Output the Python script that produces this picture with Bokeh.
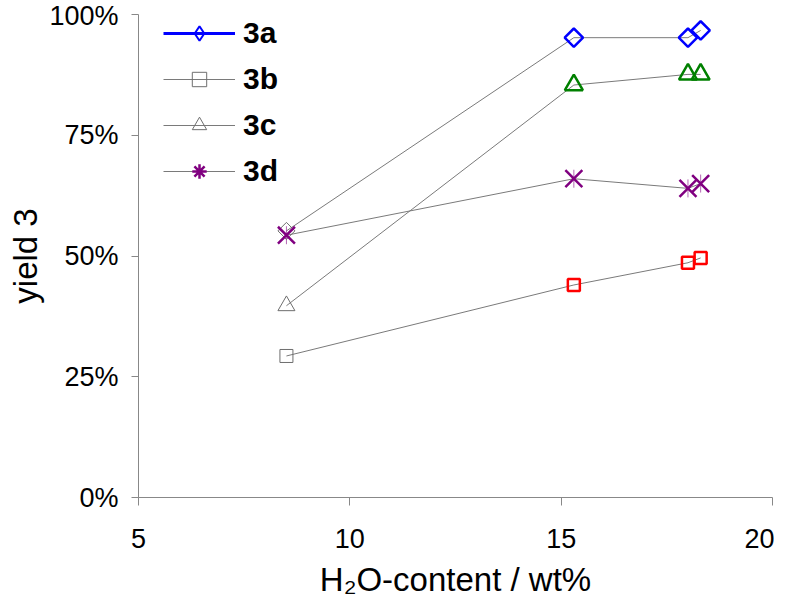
import numpy as np
from bokeh.plotting import figure
from bokeh.models import Legend, LegendItem, FixedTicker, NumeralTickFormatter
from bokeh.embed import file_html
from bokeh.resources import INLINE

# ---------------- data ----------------
water_content = [8.5, 15.3, 18.0, 18.3]          # H2O-content / wt%
yield_3a = [0.552, 0.952, 0.952, 0.967]
yield_3b = [0.293, 0.440, 0.486, 0.496]
yield_3c = [0.397, 0.854, 0.876, 0.876]
yield_3d = [0.543, 0.660, 0.640, 0.650]
series_labels = ["3a", "3b", "3c", "3d"]
x_ticks = [5, 10, 15, 20]
y_ticks = [0.0, 0.25, 0.5, 0.75, 1.0]
x_title = "H\u2082O-content / wt%"
y_title = "yield 3"

# ---------------- style ----------------
FONT = "Liberation Sans"
GRAY = "#6e6e6e"
LINE_GRAY = "#7a7a7a"
BLUE = "#0000ff"
RED = "#ff0000"
GREEN = "#008000"
PURPLE = "#800080"

p = figure(width=774, height=600, output_backend="svg", toolbar_location=None,
           x_range=(5, 20), y_range=(0, 1),
           min_border_left=138, min_border_right=2, min_border_top=14, min_border_bottom=102)

p.grid.visible = False
p.outline_line_color = None
p.background_fill_color = "white"
p.border_fill_color = "white"

for ax in (p.xaxis, p.yaxis):
    ax.axis_line_color = "#888888"
    ax.axis_line_width = 1
    ax.major_tick_line_color = "#888888"
    ax.minor_tick_line_color = None
    ax.major_tick_in = 0
    ax.major_label_text_font = FONT
    ax.major_label_text_font_size = "27px"
    ax.major_label_text_color = "black"
    ax.axis_label_text_font = FONT
    ax.axis_label_text_font_style = "normal"
    ax.axis_label_text_color = "black"

p.xaxis.ticker = FixedTicker(ticks=x_ticks)
p.xaxis.major_tick_out = 8
p.xaxis.major_label_standoff = 23
p.xaxis.axis_label = x_title
p.xaxis.axis_label_text_font_size = "33px"
p.xaxis.axis_label_standoff = 10

p.yaxis.ticker = FixedTicker(ticks=y_ticks)
p.yaxis.formatter = NumeralTickFormatter(format="0%")
p.yaxis.major_tick_out = 7
p.yaxis.major_label_standoff = 13
p.yaxis.axis_label = y_title
p.yaxis.axis_label_text_font_size = "33px"
p.yaxis.axis_label_standoff = 2

# connecting lines
for ys in (yield_3a, yield_3b, yield_3c, yield_3d):
    p.line(water_content, ys, line_color=LINE_GRAY, line_width=1)

# markers: first point drawn in gray for 3a-3c, the others coloured
ANG = np.pi / 4
p.scatter(water_content[:1], yield_3a[:1], marker="square", angle=ANG, size=12,
          fill_alpha=0, line_color=GRAY, line_width=1)
p.scatter(water_content[1:], yield_3a[1:], marker="square", angle=ANG, size=13,
          fill_alpha=0, line_color=BLUE, line_width=2.5)

p.scatter(water_content[:1], yield_3b[:1], marker="square", size=13,
          fill_alpha=0, line_color=GRAY, line_width=1)
p.scatter(water_content[1:], yield_3b[1:], marker="square", size=12,
          fill_alpha=0, line_color=RED, line_width=2.5)

p.scatter(water_content[:1], yield_3c[:1], marker="triangle", size=17,
          fill_alpha=0, line_color=GRAY, line_width=1)
p.scatter(water_content[1:], yield_3c[1:], marker="triangle", size=18,
          fill_alpha=0, line_color=GREEN, line_width=2.5)

p.scatter(water_content, yield_3d, marker="x", size=24,
          line_color=PURPLE, line_width=2.5)
p.scatter(water_content, yield_3d, marker="dash", angle=np.pi / 2, size=18,
          line_color=PURPLE, line_width=1, line_alpha=0.6)

# legend (own sample glyphs, no data shown)
nan = [np.nan]
l_a = p.line(nan, nan, line_color=BLUE, line_width=3)
m_a = p.scatter(nan, nan, marker="diamond", line_color=BLUE, line_width=2, fill_alpha=0)
l_b = p.line(nan, nan, line_color=LINE_GRAY, line_width=1)
m_b = p.scatter(nan, nan, marker="square", line_color=GRAY, line_width=1, fill_alpha=0)
l_c = p.line(nan, nan, line_color=LINE_GRAY, line_width=1)
m_c = p.scatter(nan, nan, marker="triangle", line_color=GRAY, line_width=1, fill_alpha=0)
l_d = p.line(nan, nan, line_color=LINE_GRAY, line_width=1)
m_d = p.scatter(nan, nan, marker="asterisk", line_color=PURPLE, line_width=2.5)

legend = Legend(
    items=[LegendItem(label=series_labels[0], renderers=[l_a, m_a]),
           LegendItem(label=series_labels[1], renderers=[l_b, m_b]),
           LegendItem(label=series_labels[2], renderers=[l_c, m_c]),
           LegendItem(label=series_labels[3], renderers=[l_d, m_d])],
    location=(25, 308), orientation="vertical",
    glyph_width=72, glyph_height=36, label_height=36, spacing=10,
    padding=0, margin=0, label_standoff=8,
    label_text_font=FONT, label_text_font_style="bold", label_text_font_size="30px",
    label_text_color="black",
    border_line_alpha=0, background_fill_alpha=0)
p.add_layout(legend)

open("out.html", "w").write(file_html(p, INLINE))
